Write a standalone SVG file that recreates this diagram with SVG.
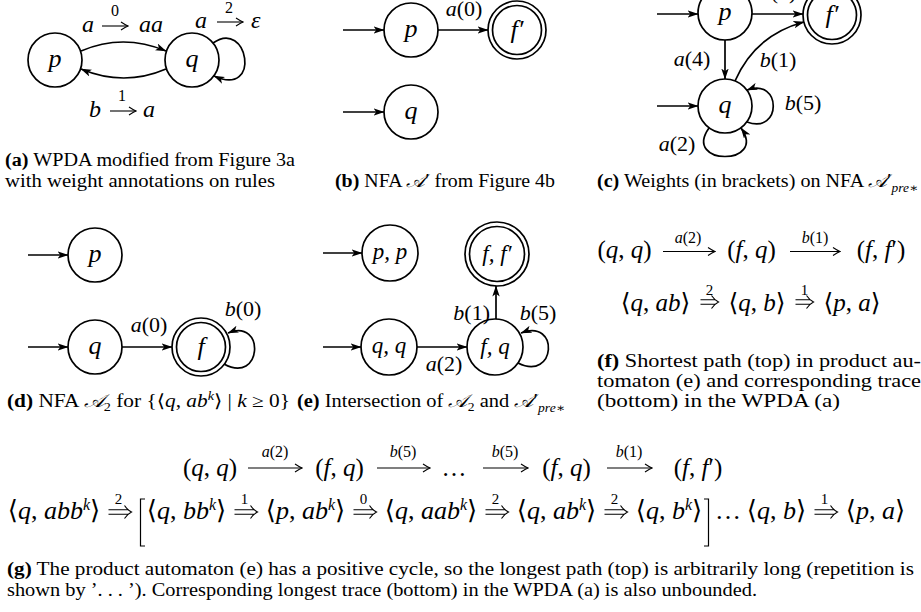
<svg xmlns="http://www.w3.org/2000/svg" width="921" height="612" viewBox="0 0 921 612">
<defs>
<marker id="arr" viewBox="0 0 11 8" refX="10.5" refY="4" markerWidth="11" markerHeight="8" markerUnits="userSpaceOnUse" orient="auto"><path d="M0,0.3 L11,4 L0,7.7 L2.8,4 Z" fill="#000"/></marker>
<marker id="tip" viewBox="-9 -5 10 10" refX="0" refY="0" markerWidth="10" markerHeight="10" markerUnits="userSpaceOnUse" orient="auto"><path d="M-7,-4 Q-2.5,-1 0,0 Q-2.5,1 -7,4" fill="none" stroke="#000" stroke-width="1.1"/></marker>
<g id="dblA"><path d="M0,-2.3 H20 M0,2.3 H20 M16,-6.5 Q19,-2 23,0 Q19,2 16,6.5" fill="none" stroke="#000" stroke-width="1.1"/></g>
<g id="dblB"><path d="M0,-2.3 H15 M0,2.3 H15 M11,-6.5 Q14,-2 18,0 Q14,2 11,6.5" fill="none" stroke="#000" stroke-width="1.1"/></g>
<style>
.nd{fill:#fff;stroke:#000;stroke-width:1.7}
.ed{fill:none;stroke:#000;stroke-width:1.7;marker-end:url(#arr)}
.ar{fill:none;stroke:#000;stroke-width:1.1;marker-end:url(#tip)}
.m{font-family:"Liberation Serif","DejaVu Serif",serif;font-size:25px;fill:#000}
.c{text-anchor:middle}
.g2{font-size:26px}
.nl{font-size:26px;font-style:italic;text-anchor:middle}
.nl2{font-size:23px;font-style:italic;text-anchor:middle}
.el{font-size:22px;text-anchor:middle}
.al{font-size:24px;font-style:italic}
.i{font-style:italic}
.sm{font-size:16px}
.lb{font-size:16px;text-anchor:middle}
.nb{font-size:15px;text-anchor:middle}
.sy{font-family:"DejaVu Sans",sans-serif;font-style:normal}
.cap{font-family:"Liberation Serif","DejaVu Serif",serif;font-size:18px;fill:#000}
.bf{font-weight:bold}
.br{fill:none;stroke:#000;stroke-width:1.2}
</style>
</defs>
<rect width="921" height="612" fill="#fff"/>

<!-- (a) -->
<g id="a_p"><circle class="nd" cx="55" cy="60" r="27"/><text class="m nl" x="55" y="67">p</text></g>
<g id="a_q"><circle class="nd" cx="192" cy="60" r="27"/><text class="m nl" x="192" y="67">q</text></g>
<!-- (b) -->
<g id="b_p"><circle class="nd" cx="411" cy="30" r="27"/><text class="m nl" x="411" y="37">p</text></g>
<g id="b_f"><circle class="nd" cx="517" cy="30" r="29"/><circle class="nd" cx="517" cy="30" r="24.5"/><text class="m nl" x="517" y="38">f′</text></g>
<g id="b_q"><circle class="nd" cx="411" cy="112" r="27"/><text class="m nl" x="411" y="119">q</text></g>
<!-- (c) -->
<g id="c_p"><circle class="nd" cx="725" cy="13" r="27"/><text class="m nl" x="725" y="20">p</text></g>
<g id="c_f"><circle class="nd" cx="832" cy="15" r="29"/><circle class="nd" cx="832" cy="15" r="24.5"/><text class="m nl" x="832" y="23">f′</text></g>
<g id="c_q"><circle class="nd" cx="725" cy="106" r="27"/><text class="m nl" x="725" y="113">q</text></g>
<!-- (d) -->
<g id="d_p"><circle class="nd" cx="95" cy="255" r="27"/><text class="m nl" x="95" y="262">p</text></g>
<g id="d_q"><circle class="nd" cx="95" cy="347" r="27"/><text class="m nl" x="95" y="354">q</text></g>
<g id="d_f"><circle class="nd" cx="201" cy="347" r="29"/><circle class="nd" cx="201" cy="347" r="24.5"/><text class="m nl" x="201" y="355">f</text></g>
<!-- (e) -->
<g id="e_pp"><circle class="nd" cx="390" cy="253" r="28"/><text class="m nl2" x="390" y="259">p, p</text></g>
<g id="e_ff"><circle class="nd" cx="497" cy="254" r="32"/><circle class="nd" cx="497" cy="254" r="27.5"/><text class="m nl2" x="497" y="261">f, f′</text></g>
<g id="e_qq"><circle class="nd" cx="389" cy="347" r="28"/><text class="m nl2" x="389" y="353">q, q</text></g>
<g id="e_fq"><circle class="nd" cx="495" cy="347" r="28"/><text class="m nl2" x="495" y="354">f, q</text></g>

<g id="connectors">
<path class="ed" d="M81,51 Q123,33 166,51"/>
<path class="ed" d="M166,69 Q124,87 81,69"/>
<path class="ed" d="M213,43 C248,18 262,98 214,76"/>
<path class="ed" d="M343,30 H384"/>
<path class="ed" d="M438,30 H488"/>
<path class="ed" d="M343,112 H384"/>
<path class="ed" d="M657,14 H698"/>
<path class="ed" d="M752,14 H803"/>
<path class="ed" d="M725,40 V79"/>
<path class="ed" d="M735,81 Q755,35 804,22"/>
<path class="ed" d="M747,122 C782,135 782,77 747,90"/>
<path class="ed" d="M657,106 H698"/>
<path class="ed" d="M709,128 C682,166 768,166 741,128"/>
<path class="ed" d="M28,255 H68"/>
<path class="ed" d="M28,347 H68"/>
<path class="ed" d="M122,347 H172"/>
<path class="ed" d="M224,364 C262,385 266,318 228,333"/>
<path class="ed" d="M323,253 H362"/>
<path class="ed" d="M323,347 H361"/>
<path class="ed" d="M417,347 H467"/>
<path class="ed" d="M496,319 V286"/>
<path class="ed" d="M518,363 C556,382 560,318 521,333"/>
</g>

<g id="edge-labels">
<text class="m al" x="82" y="32">a</text>
<path class="ar" d="M102,26 H128"/>
<text class="m lb" x="115" y="16">0</text>
<text class="m al" x="139" y="32">aa</text>
<text class="m al" x="195" y="28">a</text>
<path class="ar" d="M217,22 H243"/>
<text class="m lb" x="229" y="13">2</text>
<text class="m al" x="251" y="28">ε</text>
<text class="m al" x="89" y="117">b</text>
<path class="ar" d="M110,111 H136"/>
<text class="m lb" x="122" y="101">1</text>
<text class="m al" x="143" y="117">a</text>

<text class="m el" x="464" y="16"><tspan class="i">a</tspan>(0)</text>
<text class="m el" x="778" y="-1"><tspan class="i">a</tspan>(0)</text>
<text class="m el" x="692" y="66"><tspan class="i">a</tspan>(4)</text>
<text class="m el" x="778" y="67"><tspan class="i">b</tspan>(1)</text>
<text class="m el" x="803" y="110"><tspan class="i">b</tspan>(5)</text>
<text class="m el" x="677" y="151"><tspan class="i">a</tspan>(2)</text>
<text class="m el" x="149" y="332"><tspan class="i">a</tspan>(0)</text>
<text class="m el" x="243" y="316"><tspan class="i">b</tspan>(0)</text>
<text class="m el" x="490" y="320" style="text-anchor:end"><tspan class="i">b</tspan>(1)</text>
<text class="m el" x="538" y="320"><tspan class="i">b</tspan>(5)</text>
<text class="m el" x="444" y="371"><tspan class="i">a</tspan>(2)</text>
</g>

<g id="formula-f">
<text class="m c" x="624.5" y="258">(<tspan class="i">q</tspan>, <tspan class="i">q</tspan>)</text>
<path class="ar" d="M663,251.5 H715"/>
<text class="m lb" x="688" y="243"><tspan class="i">a</tspan>(2)</text>
<text class="m c" x="751.5" y="258">(<tspan class="i">f</tspan>, <tspan class="i">q</tspan>)</text>
<path class="ar" d="M790,251.5 H840"/>
<text class="m lb" x="815" y="243"><tspan class="i">b</tspan>(1)</text>
<text class="m c" x="881" y="258">(<tspan class="i">f</tspan>, <tspan class="i">f</tspan>′)</text>

<text class="m c" x="655.5" y="311"><tspan class="sy">⟨</tspan><tspan class="i">q</tspan>, <tspan class="i">ab</tspan><tspan class="sy">⟩</tspan></text>
<use href="#dblB" x="700.5" y="302"/>
<text class="m nb" x="709.5" y="295">2</text>
<text class="m c" x="757" y="311"><tspan class="sy">⟨</tspan><tspan class="i">q</tspan>, <tspan class="i">b</tspan><tspan class="sy">⟩</tspan></text>
<use href="#dblB" x="795.5" y="302"/>
<text class="m nb" x="804.5" y="295">1</text>
<text class="m c" x="852" y="311"><tspan class="sy">⟨</tspan><tspan class="i">p</tspan>, <tspan class="i">a</tspan><tspan class="sy">⟩</tspan></text>
</g>

<g id="formula-g">
<text class="m c" x="210" y="476">(<tspan class="i">q</tspan>, <tspan class="i">q</tspan>)</text>
<path class="ar" d="M248,468 H302"/>
<text class="m lb" x="275" y="457"><tspan class="i">a</tspan>(2)</text>
<text class="m c" x="339.5" y="476">(<tspan class="i">f</tspan>, <tspan class="i">q</tspan>)</text>
<path class="ar" d="M377,468 H430"/>
<text class="m lb" x="403" y="457"><tspan class="i">b</tspan>(5)</text>
<text class="m c" x="454" y="476">…</text>
<path class="ar" d="M483,468 H528"/>
<text class="m lb" x="505" y="457"><tspan class="i">b</tspan>(5)</text>
<text class="m c" x="566.5" y="476">(<tspan class="i">f</tspan>, <tspan class="i">q</tspan>)</text>
<path class="ar" d="M607,468 H652"/>
<text class="m lb" x="629" y="457"><tspan class="i">b</tspan>(1)</text>
<text class="m c" x="698" y="476">(<tspan class="i">f</tspan>, <tspan class="i">f</tspan>′)</text>

<text class="m c g2" x="54" y="519"><tspan class="sy">⟨</tspan><tspan class="i">q</tspan>, <tspan class="i">abb</tspan><tspan class="i sm" dy="-9">k</tspan><tspan class="sy" dy="9">⟩</tspan></text>
<use href="#dblA" x="108.5" y="512"/>
<text class="m nb" x="118.5" y="504">2</text>
<path class="br" d="M145,499 H140.5 V546 H145"/>
<text class="m c g2" x="186.5" y="519"><tspan class="sy">⟨</tspan><tspan class="i">q</tspan>, <tspan class="i">bb</tspan><tspan class="i sm" dy="-9">k</tspan><tspan class="sy" dy="9">⟩</tspan></text>
<use href="#dblA" x="234.5" y="512"/>
<text class="m nb" x="244.5" y="504">1</text>
<text class="m c g2" x="305.5" y="519"><tspan class="sy">⟨</tspan><tspan class="i">p</tspan>, <tspan class="i">ab</tspan><tspan class="i sm" dy="-9">k</tspan><tspan class="sy" dy="9">⟩</tspan></text>
<use href="#dblA" x="353.5" y="512"/>
<text class="m nb" x="363.5" y="504">0</text>
<text class="m c g2" x="431" y="519"><tspan class="sy">⟨</tspan><tspan class="i">q</tspan>, <tspan class="i">aab</tspan><tspan class="i sm" dy="-9">k</tspan><tspan class="sy" dy="9">⟩</tspan></text>
<use href="#dblA" x="485.5" y="512"/>
<text class="m nb" x="495.5" y="504">2</text>
<text class="m c g2" x="556.5" y="519"><tspan class="sy">⟨</tspan><tspan class="i">q</tspan>, <tspan class="i">ab</tspan><tspan class="i sm" dy="-9">k</tspan><tspan class="sy" dy="9">⟩</tspan></text>
<use href="#dblA" x="604.5" y="512"/>
<text class="m nb" x="614.5" y="504">2</text>
<text class="m c g2" x="669" y="519"><tspan class="sy">⟨</tspan><tspan class="i">q</tspan>, <tspan class="i">b</tspan><tspan class="i sm" dy="-9">k</tspan><tspan class="sy" dy="9">⟩</tspan></text>
<path class="br" d="M704,499 H708.5 V546 H704"/>
<text class="m c g2" x="728" y="519">…</text>
<text class="m c g2" x="776.5" y="519"><tspan class="sy">⟨</tspan><tspan class="i">q</tspan>, <tspan class="i">b</tspan><tspan class="sy">⟩</tspan></text>
<use href="#dblA" x="814.5" y="512"/>
<text class="m nb" x="824.5" y="504">1</text>
<text class="m c g2" x="875.5" y="519"><tspan class="sy">⟨</tspan><tspan class="i">p</tspan>, <tspan class="i">a</tspan><tspan class="sy">⟩</tspan></text>
</g>

<g id="captions">
<text class="cap" x="5" y="166" textLength="290" lengthAdjust="spacingAndGlyphs"><tspan class="bf">(a)</tspan> WPDA modified from Figure 3a</text>
<text class="cap" x="5" y="186.5" textLength="270" lengthAdjust="spacingAndGlyphs">with weight annotations on rules</text>
<text class="cap" x="335" y="186.5" textLength="220" lengthAdjust="spacingAndGlyphs"><tspan class="bf">(b)</tspan> NFA <tspan class="i">𝒜</tspan>′ from Figure 4b</text>
<text class="cap" x="597" y="186.5" textLength="321" lengthAdjust="spacingAndGlyphs"><tspan class="bf">(c)</tspan> Weights (in brackets) on NFA <tspan class="i">𝒜</tspan>′<tspan class="i" style="font-size:12px" dy="5">pre</tspan><tspan style="font-size:12px">∗</tspan></text>
<text class="cap" x="7" y="406.5" textLength="283" lengthAdjust="spacingAndGlyphs"><tspan class="bf">(d)</tspan> NFA <tspan class="i">𝒜</tspan><tspan style="font-size:12px" dy="4">2</tspan><tspan dy="-4"> for {⟨</tspan><tspan class="i">q</tspan>, <tspan class="i">ab</tspan><tspan class="i" style="font-size:12px" dy="-7">k</tspan><tspan dy="7">⟩ | </tspan><tspan class="i">k</tspan> ≥ 0}</text>
<text class="cap" x="297" y="406.5" textLength="268" lengthAdjust="spacingAndGlyphs"><tspan class="bf">(e)</tspan> Intersection of <tspan class="i">𝒜</tspan><tspan style="font-size:12px" dy="4">2</tspan><tspan dy="-4"> and </tspan><tspan class="i">𝒜</tspan>′<tspan class="i" style="font-size:12px" dy="5">pre</tspan><tspan style="font-size:12px">∗</tspan></text>
<text class="cap" x="597" y="367" textLength="324" lengthAdjust="spacingAndGlyphs"><tspan class="bf">(f)</tspan> Shortest path (top) in product au-</text>
<text class="cap" x="597" y="387" textLength="324" lengthAdjust="spacingAndGlyphs">tomaton (e) and corresponding trace</text>
<text class="cap" x="597" y="407" textLength="243" lengthAdjust="spacingAndGlyphs">(bottom) in the WPDA (a)</text>
<text class="cap" x="7" y="575" textLength="907" lengthAdjust="spacingAndGlyphs"><tspan class="bf">(g)</tspan> The product automaton (e) has a positive cycle, so the longest path (top) is arbitrarily long (repetition is</text>
<text class="cap" x="7" y="596" textLength="750" lengthAdjust="spacingAndGlyphs">shown by ’. . . ’). Corresponding longest trace (bottom) in the WPDA (a) is also unbounded.</text>
</g>
</svg>
